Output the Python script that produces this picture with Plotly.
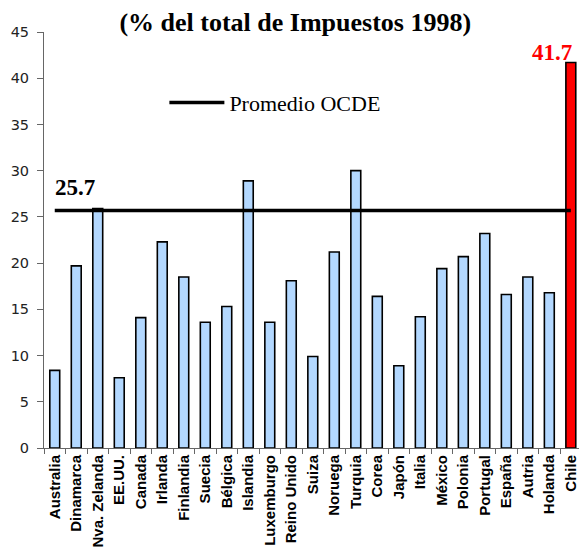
import plotly.graph_objects as go

paises = ["Australia", "Dinamarca", "Nva. Zelanda", "EE.UU.", "Canada", "Irlanda",
          "Finlandia", "Suecia", "Bélgica", "Islandia", "Luxemburgo", "Reino Unido",
          "Suiza", "Noruega", "Turquia", "Corea", "Japón", "Italia", "México",
          "Polonia", "Portugal", "España", "Autria", "Holanda", "Chile"]
valores = [8.4, 19.7, 25.9, 7.6, 14.1, 22.3, 18.5, 13.6, 15.3, 28.9, 13.6, 18.1,
           9.9, 21.2, 30.0, 16.4, 8.9, 14.2, 19.4, 20.7, 23.2, 16.6, 18.5, 16.8, 41.7]
promedio = 25.7
ticks_y = [0, 5, 10, 15, 20, 25, 30, 35, 40, 45]

colores = ["#FF0000" if p == "Chile" else "#B3D8FF" for p in paises]

fig = go.Figure()
fig.add_trace(go.Bar(
    x=paises, y=valores, width=0.46,
    marker=dict(color=colores, line=dict(color="#000000", width=1.6)),
    showlegend=False, hoverinfo="x+y",
))
fig.add_trace(go.Scatter(
    x=[paises[0], paises[-1]], y=[promedio, promedio], mode="lines",
    line=dict(color="#000000", width=3.5), name="Promedio OCDE", showlegend=True,
))

fig.add_annotation(x=paises[0], y=promedio, text="<b>25.7</b>", showarrow=False,
                   xanchor="left", yanchor="bottom", xshift=-2, yshift=8,
                   font=dict(family="Liberation Serif", size=23, color="#000000"))
fig.add_annotation(x=paises[-1], y=valores[-1], text="<b>41.7</b>", showarrow=False,
                   xanchor="right", yanchor="bottom", xshift=3, yshift=-4,
                   font=dict(family="Liberation Serif", size=23, color="#FF0000"))

fig.update_layout(
    width=579, height=550,
    margin=dict(l=44, r=0, t=32, b=102, autoexpand=False),
    paper_bgcolor="white", plot_bgcolor="white",
    title=dict(text="<b>(% del total de Impuestos 1998)</b>", x=0.51, xanchor="center",
               y=0.96, yanchor="middle",
               font=dict(family="Liberation Serif", size=26, color="#000000")),
    legend=dict(x=0.225, y=0.83, xanchor="left", yanchor="middle",
                bgcolor="rgba(0,0,0,0)", itemwidth=55,
                font=dict(family="Liberation Serif", size=22, color="#000000")),
)
fig.update_xaxes(
    type="category", range=[-0.5, 24.38], automargin=False,
    showline=True, linecolor="#666666", linewidth=1,
    ticks="outside", tickson="boundaries", ticklen=5, tickcolor="#666666",
    tickangle=-90, showgrid=False,
    tickfont=dict(family="Liberation Sans", size=15, color="#000000", weight="bold"),
)
fig.update_yaxes(
    range=[0, 45], tickvals=ticks_y, automargin=False,
    showline=True, linecolor="#666666", linewidth=1,
    ticks="outside", ticklen=6, tickcolor="#666666", showgrid=False, zeroline=False,
    ticklabelstandoff=5,
    tickfont=dict(family="DejaVu Sans", size=14.5, color="#222222"),
)

fig.write_html("out.html", config={"displayModeBar": False},
               post_script="document.body.style.margin='0';")
